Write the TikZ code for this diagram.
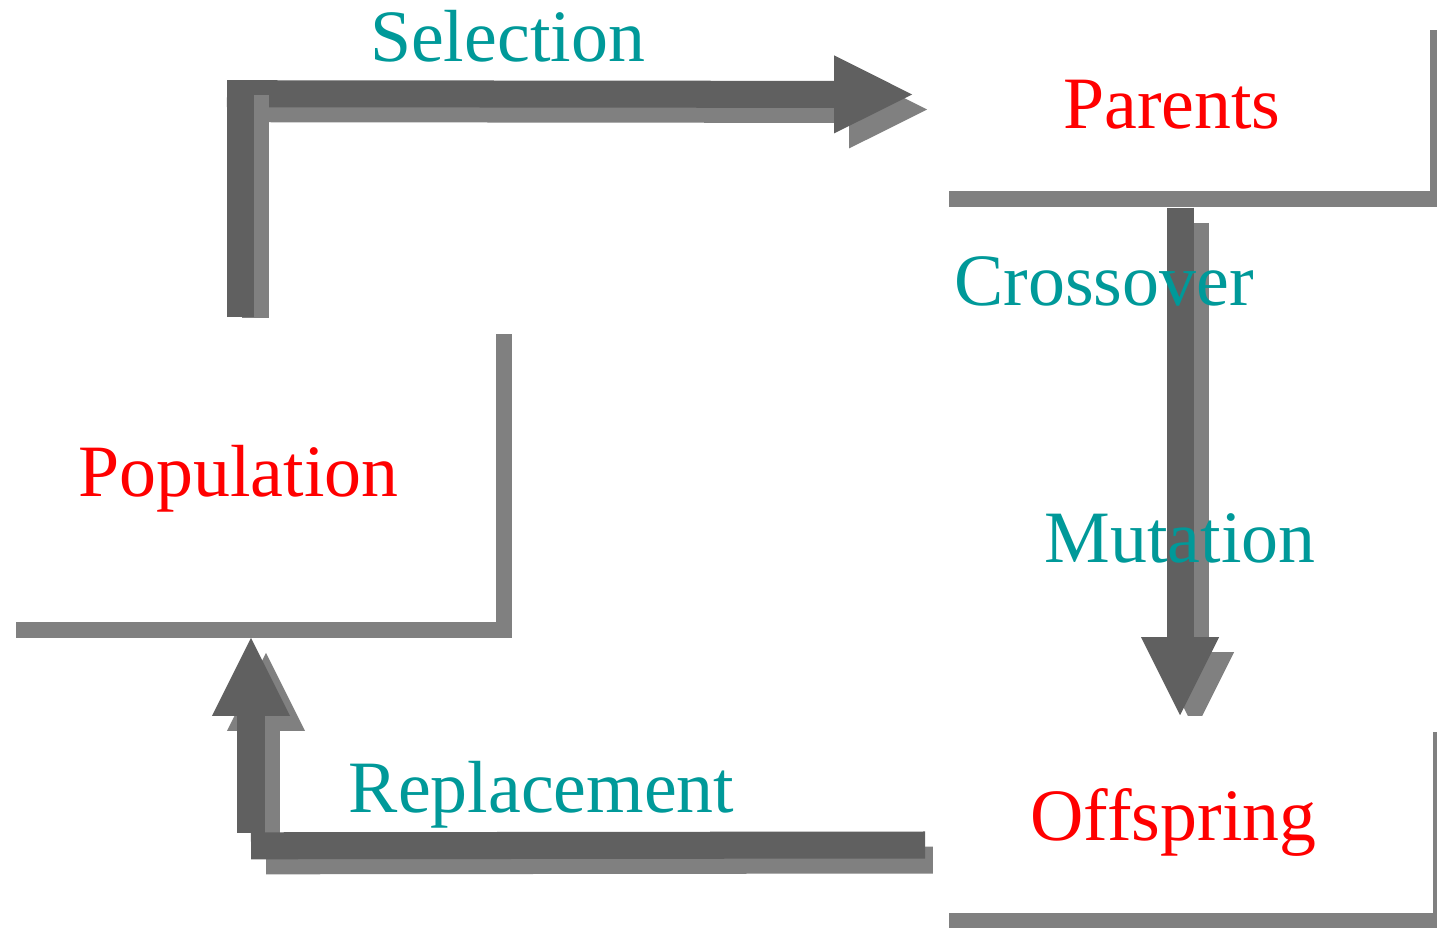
\documentclass[tikz,border=0pt]{standalone}
\usepackage{fontspec}
\setmainfont{Liberation Serif}
\usetikzlibrary{calc, arrows.meta, shadows, backgrounds}

\definecolor{flowdark}{RGB}{96,96,96}
\definecolor{flowlight}{RGB}{128,128,128}
\definecolor{shadowgray}{RGB}{128,128,128}
\definecolor{opteal}{RGB}{0,153,153}

\tikzset{
    box/.style={fill=white, inner sep=0pt, text=red,
        font=\fontsize{21}{25}\selectfont,
        text height=0.70cm, text depth=0.18cm,
        execute at end node=\hspace*{0.19cm},
        general shadow={fill=shadowgray, shadow xshift=0.16cm, shadow yshift=-0.16cm}},
    oplabel/.style={text=opteal, font=\fontsize{21}{25}\selectfont, anchor=base, inner sep=0pt},
    flow/.style={draw=flowdark, line width=0.27cm, line cap=butt},
    flowhead/.style={-{Triangle[length=0.78cm, width=0.78cm, line width=0pt]}},
    flowshadow/.style={draw=flowlight, transform canvas={xshift=0.15cm, yshift=-0.15cm}},
}

\begin{document}
\begin{tikzpicture}[x=0.01cm, y=-0.01cm]
    \useasboundingbox (0,0) rectangle (1437,928);

    % 箱
    \node[box, minimum width=4.96cm, minimum height=3.04cm] (pop) at (248,470) {Population};
    \node[box, minimum width=4.97cm, minimum height=1.77cm] (par) at (1181.5,102.5) {Parents};
    \node[box, minimum width=5.00cm, minimum height=1.97cm] (off) at (1183,814.5) {Offspring};

    % 曲がり角
    \coordinate (selup) at ($(pop.north)+(-7.5,-237)$);
    \coordinate (crosstop) at ($(par.south)+(-1.5,16)$);
    \coordinate (repcorner) at ($(pop.south)+(3,223)$);

    \begin{scope}[on background layer]
        % Selection (横 -> 縦の順)
        \draw[flow, flowhead, flowshadow] ($(selup)+(-13.5,13.5)$) -- ($(par.west)+(-20,-8)$);
        \draw[flow, flowhead] ($(selup)+(-13.5,13.5)$) -- ($(par.west)+(-20,-8)$);
        \draw[flow, flowshadow] ($(pop.north)+(-7.5,0)$) -- (selup);
        \draw[flow] ($(pop.north)+(-7.5,0)$) -- (selup);

        % Crossover / Mutation
        \draw[flow, flowhead, flowshadow] (crosstop) -- (crosstop |- off.north);
        \draw[flow, flowhead] (crosstop) -- (crosstop |- off.north);

        % Replacement
        \draw[flow, flowhead, flowshadow] ($(repcorner)+(0,-13)$) -- ($(pop.south)+(3,15)$);
        \draw[flow, flowshadow] ($(off.west)+(-7,30.5)$) -- (repcorner);
        \draw[flow] ($(off.west)+(-7,30.5)$) -- (repcorner);
        \draw[flow, flowhead] ($(repcorner)+(0,-13)$) -- ($(pop.south)+(3,15)$);
    \end{scope}

    % ラベル
    \node[oplabel] (sellab) at (507.5,62) {Selection};
    \node[oplabel] (crosslab) at (1104,306) {Crossover};
    \node[oplabel] (mutlab) at (1180,562) {Mutation};
    \node[oplabel] (replab) at (541.5,812) {Replacement};
\end{tikzpicture}
\end{document}
